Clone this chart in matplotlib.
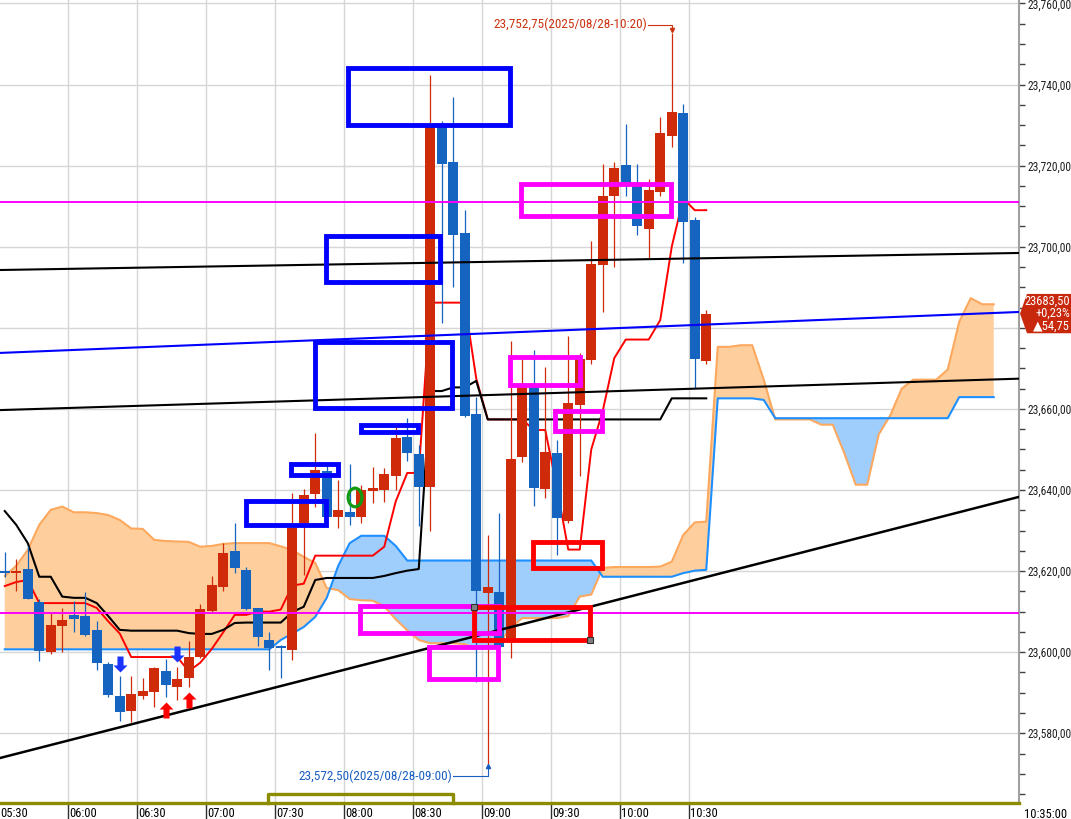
import numpy as np
import matplotlib
matplotlib.use("Agg")
import matplotlib.pyplot as plt
import matplotlib.transforms as mtransforms
from matplotlib.patches import Rectangle, Ellipse, Polygon
from matplotlib.path import Path
from matplotlib.ticker import MultipleLocator, FuncFormatter

# ---------------- data (5분봉, 05:30 ~ 10:35) ----------------
time_labels = ['05:30', '06:00', '06:30', '07:00', '07:30', '08:00',
               '08:30', '09:00', '09:30', '10:00', '10:30']

opens = [23620.0, 23619.5, 23620.5, 23612.4, 23600.0, 23606.5, 23609.2, 23609.0, 23605.5, 23597.0,
         23589.2, 23585.5, 23589.2, 23590.2, 23595.4, 23591.4, 23593.6, 23598.8, 23610.2, 23616.1,
         23625.0, 23620.3, 23610.9, 23603.0, 23601.2, 23600.5, 23631.9, 23639.0, 23644.7, 23633.3,
         23634.6, 23633.3, 23639.8, 23640.0, 23643.5, 23653.0, 23648.9, 23640.8, 23729.4, 23720.8,
         23703.3, 23658.7, 23614.5, 23614.8, 23603.0, 23648.2, 23665.9, 23640.2, 23649.1, 23632.4,
         23661.0, 23672.0, 23695.5, 23712.5, 23720.2, 23715.0, 23704.3, 23713.6, 23727.4, 23732.9,
         23706.5, 23671.75]
highs = [23624.7, 23623.0, 23626.2, 23613.0, 23609.7, 23611.0, 23612.6, 23614.8, 23607.7, 23597.5,
         23594.0, 23594.0, 23593.6, 23596.4, 23598.3, 23596.4, 23602.8, 23611.9, 23618.8, 23627.0,
         23631.9, 23621.0, 23611.0, 23605.0, 23601.8, 23639.3, 23640.2, 23654.0, 23647.0, 23642.5,
         23646.4, 23641.2, 23645.7, 23645.4, 23655.5, 23657.8, 23651.1, 23742.3, 23731.0, 23737.0,
         23709.0, 23663.0, 23629.0, 23634.4, 23676.7, 23673.0, 23674.5, 23670.3, 23652.3, 23678.0,
         23673.8, 23701.4, 23720.3, 23721.0, 23730.2, 23720.5, 23716.6, 23732.0, 23752.75, 23735.3,
         23707.2, 23684.5]
lows = [23618.5, 23615.0, 23613.0, 23597.8, 23599.6, 23600.0, 23605.0, 23604.0, 23595.6, 23589.0,
        23583.0, 23582.8, 23588.5, 23586.5, 23589.0, 23588.2, 23591.4, 23598.5, 23610.0, 23615.0,
        23619.5, 23610.4, 23601.5, 23595.6, 23593.6, 23598.0, 23619.0, 23635.8, 23633.0, 23630.6,
        23631.4, 23631.9, 23636.8, 23637.0, 23640.0, 23647.2, 23631.1, 23630.0, 23681.2, 23690.0,
        23658.0, 23592.7, 23572.5, 23600.5, 23598.6, 23647.0, 23636.0, 23638.0, 23624.0, 23631.8,
        23643.5, 23671.0, 23684.0, 23695.0, 23712.4, 23702.9, 23697.0, 23712.5, 23724.5, 23696.0,
        23665.2, 23671.0]
closes = [23619.5, 23620.0, 23613.1, 23600.3, 23606.7, 23608.0, 23608.2, 23604.2, 23597.3, 23589.5,
          23585.3, 23589.7, 23590.4, 23596.1, 23591.9, 23593.4, 23598.8, 23610.7, 23616.6, 23624.5,
          23620.8, 23610.7, 23603.7, 23601.0, 23601.0, 23630.6, 23638.8, 23644.9, 23633.3, 23635.1,
          23633.3, 23640.0, 23640.5, 23644.0, 23652.8, 23649.1, 23640.7, 23729.4, 23720.3, 23703.0,
          23658.2, 23615.0, 23616.0, 23601.3, 23647.6, 23665.9, 23640.6, 23649.4, 23633.1, 23661.4,
          23672.3, 23695.7, 23712.5, 23719.5, 23715.0, 23705.0, 23713.9, 23728.0, 23733.3, 23706.2,
          23672.4, 23683.5]

# 일목균형표 (전환선, 기준선, 선행스팬1/2 - 26봉 앞으로)
tenkan = [23616.3, 23617.3, 23617.8, 23612.1, 23612.1, 23612.1, 23612.1, 23612.1, 23610.9, 23607.6,
          23604.6, 23598.8, 23598.8, 23598.8, 23598.8, 23598.8, 23595.3, 23597.4, 23600.8, 23604.9,
          23609.2, 23609.2, 23610.0, 23610.0, 23610.5, 23616.4, 23616.9, 23623.8, 23623.8, 23623.8,
          23623.8, 23623.8, 23623.8, 23626.0, 23637.2, 23644.2, 23644.2, 23686.2, 23686.2, 23686.2,
          23686.2, 23667.5, 23657.4, 23657.4, 23657.4, 23657.4, 23654.8, 23654.8, 23640.8, 23625.3,
          23625.3, 23650.0, 23659.5, 23672.5, 23677.1, 23677.1, 23677.1, 23681.9, 23700.0, 23711.9,
          23709.0, 23709.0]
kijun = [23634.8, 23631.4, 23626.9, 23618.6, 23618.6, 23613.7, 23613.4, 23613.4, 23612.1, 23608.9,
         23605.5, 23605.3, 23605.3, 23605.3, 23605.3, 23605.3, 23604.7, 23604.5, 23604.5, 23605.5,
         23607.2, 23607.3, 23607.3, 23607.3, 23607.3, 23609.9, 23611.2, 23617.8, 23618.3, 23618.3,
         23618.3, 23618.3, 23618.3, 23618.8, 23619.5, 23620.1, 23620.5, 23664.4, 23664.4, 23665.3,
         23665.3, 23666.9] + [23657.4] * 16 + [23662.6] * 4
span_a = [23618.8, 23621.3, 23625.2, 23631.4, 23635.1, 23635.9, 23634.5, 23634.5, 23634.3, 23633.8,
          23632.6, 23630.5, 23630.4, 23627.7, 23627.4, 23627.3, 23627.2, 23626.0, 23626.2, 23626.7,
          23626.9, 23626.9, 23626.9, 23626.9, 23626.1, 23625.2, 23623.5, 23622.0, 23615.8, 23615.3,
          23613.1, 23612.8, 23612.7, 23611.3, 23608.1, 23605.4, 23603.0, 23602.2, 23602.2, 23602.2,
          23602.0, 23600.8, 23601.2, 23602.1, 23606.0, 23608.4, 23608.4, 23608.4, 23608.4, 23608.9,
          23613.7, 23614.2, 23620.8, 23621.0, 23621.0, 23621.0, 23621.0, 23621.1, 23622.3, 23628.9,
          23632.0, 23632.2, 23675.3, 23675.3, 23675.7, 23675.7, 23667.2, 23657.4, 23657.4, 23657.4,
          23657.4, 23656.1, 23656.1, 23649.1, 23641.3, 23641.3, 23653.7, 23658.4, 23665.0, 23667.2,
          23667.2, 23667.2, 23669.7, 23681.5, 23687.3, 23685.8, 23685.8]
span_b = ([23600.7] * 24
          + [23603.0, 23604.6, 23606.2, 23608.7, 23613.4, 23621.3, 23626.9, 23628.7, 23628.7, 23628.7,
             23626.2, 23622.6]
          + [23622.6] * 16 + [23618.6] * 7 + [23619.5, 23620.1, 23620.3]
          + [23662.6] * 4 + [23662.2] + [23657.7] * 16 + [23662.9] * 4)

# 추세선 (봉 인덱스, 가격)
support_line = [(-0.41, 23573.9), (88.2, 23638.3)]
blue_line = [(-0.41, 23673.8), (88.2, 23683.9)]
black_upper = [(-0.41, 23694.25), (88.2, 23698.45)]
black_lower = [(-0.41, 23659.7), (88.2, 23667.45)]
h_levels = [23711.0, 23609.75]

# 박스 (x0, x1, y0, y1)
blue_boxes = [(29.85, 43.93, 23730.0, 23744.1), (27.93, 37.85, 23691.3, 23702.6),
              (26.98, 38.89, 23660.2, 23676.5), (30.98, 35.93, 23654.3, 23656.0),
              (24.89, 28.98, 23643.7, 23646.4), (20.98, 27.93, 23631.4, 23637.3)]
pink_boxes = [(44.89, 57.93, 23707.6, 23715.5), (43.93, 50.02, 23665.9, 23672.8),
              (47.85, 51.93, 23654.6, 23659.5), (30.9, 42.98, 23604.7, 23611.4),
              (36.89, 42.89, 23593.4, 23601.3)]
red_boxes = [(45.93, 51.93, 23620.8, 23627.2), (40.8, 50.9, 23603.0, 23611.1)]

sig_down = [10, 15]
sig_up = [14, 16]

prev_close = 23628.75
bracket = (22.9, 38.98)

# ---------------- style ----------------
FONT = ['Roboto Condensed', 'DejaVu Sans']
RED = '#cf2b0b'
BLUE = '#1565c0'

fig = plt.figure(figsize=(10.71, 8.19), dpi=100)
ax = fig.add_axes([0, 16 / 819, 1019 / 1071, 803 / 819])
ax.set_xlim(-0.413, 88.196)
ax.set_ylim(23562.8, 23760.84)

# 그리드
for v in np.arange(23580, 23761, 20):
    ax.axhline(v, color='#d6d6d6', lw=1.0, zorder=0)
t_idx = [-0.5 + 6 * k for k in range(len(time_labels))]
for t in t_idx:
    ax.axvline(t, color='#d6d6d6', lw=1.0, zorder=0)

# 구름
xc = np.arange(len(span_a))
sa = np.array(span_a)
sb = np.array(span_b)
ax.fill_between(xc, sa, sb, where=sa >= sb, interpolate=True, color='#fecf9d', lw=0, zorder=1)
ax.fill_between(xc, sa, sb, where=sa < sb, interpolate=True, color='#9fcdfc', lw=0, zorder=1)
ax.plot(xc, sa, color='#fca85e', lw=1.5, zorder=2)
ax.plot(xc, sb, color='#1e8fff', lw=1.5, zorder=2)

# 전환선 / 기준선
xi = np.arange(len(opens))
ax.plot(xi, tenkan, color='#ff0000', lw=1.4, zorder=3)
ax.plot(xi, kijun, color='black', lw=1.5, zorder=3)

# 캔들
o = np.array(opens); h = np.array(highs); l = np.array(lows); c = np.array(closes)
col = np.where(c >= o, RED, BLUE)
ax.vlines(xi, l, h, colors=col, lw=0.9, zorder=4)
body = np.maximum(np.abs(c - o), 0.5)
ax.bar(xi, body, bottom=np.minimum(o, c), width=0.88, color=col, lw=0, zorder=4)

# 추세선, 수평선
for (p0, p1), clr, lw in [(support_line, 'black', 1.8), (black_upper, 'black', 1.5),
                          (black_lower, 'black', 1.5), (blue_line, '#0000ff', 1.5)]:
    ax.plot([p0[0], p1[0]], [p0[1], p1[1]], color=clr, lw=lw, zorder=5)
for lv in h_levels:
    ax.axhline(lv, color='#ff00ff', lw=1.4, zorder=5)

# 박스
for boxes, clr in [(blue_boxes, '#0000ff'), (pink_boxes, '#ff00ff'), (red_boxes, '#ff0000')]:
    for x0, x1, y0, y1 in boxes:
        ax.add_patch(Rectangle((x0, y0), x1 - x0, y1 - y0, fill=False, ec=clr, lw=3.5, zorder=6))
rb = red_boxes[1]
ax.plot([rb[0], rb[1]], [rb[3], rb[2]], ls='none', marker='s', ms=4.5,
        mfc='#808080', mec='#303030', mew=0.8, zorder=7)

ax.add_patch(Ellipse((30.46, 23638.15), 1.2, 4.6, fill=False, ec='#119911', lw=2.3, zorder=7))

# 신호 화살표
down_arrow = Path([(-0.19, 0.5), (0.19, 0.5), (0.19, -0.06), (0.44, -0.06), (0, -0.5),
                   (-0.44, -0.06), (-0.19, -0.06), (-0.19, 0.5)])
up_arrow = Path(down_arrow.vertices * [1, -1])
ax.plot(sig_down, h[sig_down] + 3.1, ls='none', marker=down_arrow, ms=11.5,
        color='#1a33ff', mec='none', zorder=7)
ax.plot(sig_up, l[sig_up] - 3.2, ls='none', marker=up_arrow, ms=11.5,
        color='#ff0000', mec='none', zorder=7)

# 최고/최저 표시
hi_i = int(np.argmax(h)); lo_i = int(np.argmin(l))
tc_hi = '#cc3311'; tc_lo = '#1a5fc0'
ax.text(hi_i - 2.1, h[hi_i] + 2.0, f"{h[hi_i]:,.2f}".replace('.', ',') + "(2025/08/28-10:20)",
        ha='right', va='center', fontsize=9.5, color=tc_hi, family=FONT, zorder=8)
ax.plot([hi_i - 2.05, hi_i, hi_i], [h[hi_i] + 2.0, h[hi_i] + 2.0, h[hi_i] + 0.6],
        color=tc_hi, lw=0.8, zorder=8)
ax.plot(hi_i, h[hi_i] + 0.6, marker='v', ms=3, color=tc_hi, zorder=8)
ax.text(lo_i - 3.1, l[lo_i] - 3.0, f"{l[lo_i]:,.2f}".replace('.', ',') + "(2025/08/28-09:00)",
        ha='right', va='center', fontsize=9.5, color=tc_lo, family=FONT, zorder=8)
ax.plot([lo_i - 3.05, lo_i, lo_i], [l[lo_i] - 3.0, l[lo_i] - 3.0, l[lo_i] - 0.6],
        color=tc_lo, lw=0.8, zorder=8)
ax.plot(lo_i, l[lo_i] - 0.6, marker='^', ms=3, color=tc_lo, zorder=8)

# 축
for s in ['top', 'left']:
    ax.spines[s].set_visible(False)
ax.spines['right'].set_color('#a0a0a0')
ax.spines['right'].set_linewidth(1.5)
ax.spines['bottom'].set_color('#8c8c00')
ax.spines['bottom'].set_linewidth(2.4)
ax.spines['bottom'].set_zorder(9)

last = c[-1]


def price_fmt(v, p):
    # 현재가 라벨에 가려지는 눈금은 비움
    if abs(v - last) < 8:
        return ''
    return f"{v:,.0f},00"


ax.yaxis.tick_right()
ax.yaxis.set_major_locator(MultipleLocator(20))
ax.yaxis.set_minor_locator(MultipleLocator(5))
ax.yaxis.set_major_formatter(FuncFormatter(price_fmt))
ax.tick_params(axis='y', which='both', length=4, width=1, color='#404040', pad=2,
               labelsize=8.3, labelcolor='#202020')
for lab in ax.get_yticklabels():
    lab.set_family(FONT)

ax.set_xticks([t for t in t_idx if t > ax.get_xlim()[0]])
ax.tick_params(axis='x', length=12, width=1, color='#303030', labelbottom=False)
trans = mtransforms.blended_transform_factory(ax.transData, ax.transAxes)
for t, lab in zip(t_idx, time_labels):
    ax.text(t + 0.12, -0.0135, lab, transform=trans, ha='left', va='center',
            fontsize=9, family=FONT, clip_on=False)
fig.text(1024 / 1071, 1 - 814 / 819, '10:35:00', ha='left', va='center', fontsize=9, family=FONT)

# 하단 구간 표시
y_b = 23565.0
ax.plot([bracket[0], bracket[0], bracket[1], bracket[1]], [23562.8, y_b, y_b, 23562.8],
        color='#8c8c00', lw=2.4, clip_on=False, zorder=9)

# 현재가 라벨
bt = mtransforms.blended_transform_factory(fig.transFigure, ax.transData)
half = 4.85
px = lambda v: v / 1071
ax.add_patch(Polygon([(px(1020), last), (px(1027), last + half), (px(1071), last + half),
                      (px(1071), last - half), (px(1027), last - half)],
                     closed=True, transform=bt, fc='#c8280c', ec='none', clip_on=False, zorder=10))
chg = last - prev_close
lines_txt = [f"{last:.2f}".replace('.', ','),
             f"+{chg / prev_close * 100:.2f}%".replace('.', ','),
             "\u25b2" + f"{chg:.2f}".replace('.', ',')]
for k, s in enumerate(lines_txt):
    ax.text(px(1070), last + 3.05 - 3.05 * k, s, transform=bt, ha='right', va='center',
            fontsize=9, color='white', family=FONT, clip_on=False, zorder=11)

fig.savefig('out.png', dpi=100)
